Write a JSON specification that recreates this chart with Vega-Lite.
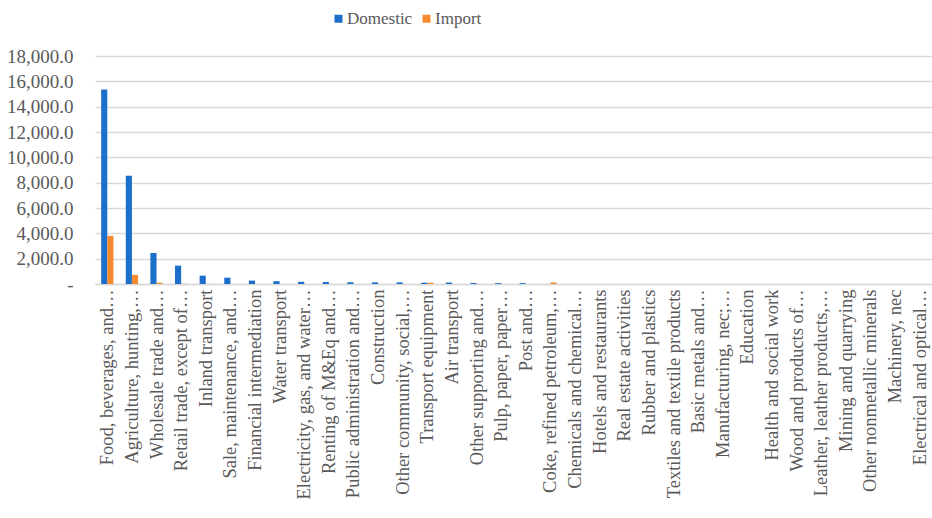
{
  "$schema": "https://vega.github.io/schema/vega-lite/v6.json",
  "autosize": {"type": "none"},
  "padding": {"left": 95, "top": 56, "right": 0, "bottom": 234},
  "width": 837,
  "height": 228,
  "background": "white",
  "config": {
    "view": {"stroke": null},
    "font": "Liberation Serif"
  },
  "data": {
    "values": [
      {"sector": "Food, beverages, and…", "source": "Domestic", "value": 15350},
      {"sector": "Food, beverages, and…", "source": "Import", "value": 3800},
      {"sector": "Agriculture, hunting,…", "source": "Domestic", "value": 8550},
      {"sector": "Agriculture, hunting,…", "source": "Import", "value": 720},
      {"sector": "Wholesale trade and…", "source": "Domestic", "value": 2450},
      {"sector": "Wholesale trade and…", "source": "Import", "value": 100},
      {"sector": "Retail trade, except of…", "source": "Domestic", "value": 1450},
      {"sector": "Retail trade, except of…", "source": "Import", "value": 15},
      {"sector": "Inland transport", "source": "Domestic", "value": 660},
      {"sector": "Inland transport", "source": "Import", "value": 10},
      {"sector": "Sale, maintenance, and…", "source": "Domestic", "value": 500},
      {"sector": "Sale, maintenance, and…", "source": "Import", "value": 0},
      {"sector": "Financial intermediation", "source": "Domestic", "value": 270},
      {"sector": "Financial intermediation", "source": "Import", "value": 0},
      {"sector": "Water transport", "source": "Domestic", "value": 220},
      {"sector": "Water transport", "source": "Import", "value": 0},
      {"sector": "Electricity, gas, and water…", "source": "Domestic", "value": 170},
      {"sector": "Electricity, gas, and water…", "source": "Import", "value": 0},
      {"sector": "Renting of M&Eq and…", "source": "Domestic", "value": 160},
      {"sector": "Renting of M&Eq and…", "source": "Import", "value": 0},
      {"sector": "Public administration and…", "source": "Domestic", "value": 140},
      {"sector": "Public administration and…", "source": "Import", "value": 0},
      {"sector": "Construction", "source": "Domestic", "value": 130},
      {"sector": "Construction", "source": "Import", "value": 0},
      {"sector": "Other community, social,…", "source": "Domestic", "value": 130},
      {"sector": "Other community, social,…", "source": "Import", "value": 0},
      {"sector": "Transport equipment", "source": "Domestic", "value": 100},
      {"sector": "Transport equipment", "source": "Import", "value": 100},
      {"sector": "Air transport", "source": "Domestic", "value": 110},
      {"sector": "Air transport", "source": "Import", "value": 0},
      {"sector": "Other supporting and…", "source": "Domestic", "value": 80},
      {"sector": "Other supporting and…", "source": "Import", "value": 0},
      {"sector": "Pulp, paper, paper…", "source": "Domestic", "value": 70},
      {"sector": "Pulp, paper, paper…", "source": "Import", "value": 0},
      {"sector": "Post and…", "source": "Domestic", "value": 70},
      {"sector": "Post and…", "source": "Import", "value": 0},
      {"sector": "Coke, refined petroleum,…", "source": "Domestic", "value": 0},
      {"sector": "Coke, refined petroleum,…", "source": "Import", "value": 120},
      {"sector": "Chemicals and chemical…", "source": "Domestic", "value": 0},
      {"sector": "Chemicals and chemical…", "source": "Import", "value": 0},
      {"sector": "Hotels and restaurants", "source": "Domestic", "value": 0},
      {"sector": "Hotels and restaurants", "source": "Import", "value": 0},
      {"sector": "Real estate activities", "source": "Domestic", "value": 0},
      {"sector": "Real estate activities", "source": "Import", "value": 0},
      {"sector": "Rubber and plastics", "source": "Domestic", "value": 0},
      {"sector": "Rubber and plastics", "source": "Import", "value": 0},
      {"sector": "Textiles and textile products", "source": "Domestic", "value": 0},
      {"sector": "Textiles and textile products", "source": "Import", "value": 0},
      {"sector": "Basic metals and…", "source": "Domestic", "value": 0},
      {"sector": "Basic metals and…", "source": "Import", "value": 0},
      {"sector": "Manufacturing, nec;…", "source": "Domestic", "value": 0},
      {"sector": "Manufacturing, nec;…", "source": "Import", "value": 0},
      {"sector": "Education", "source": "Domestic", "value": 0},
      {"sector": "Education", "source": "Import", "value": 0},
      {"sector": "Health and social work", "source": "Domestic", "value": 0},
      {"sector": "Health and social work", "source": "Import", "value": 0},
      {"sector": "Wood and products of…", "source": "Domestic", "value": 0},
      {"sector": "Wood and products of…", "source": "Import", "value": 0},
      {"sector": "Leather, leather products,…", "source": "Domestic", "value": 0},
      {"sector": "Leather, leather products,…", "source": "Import", "value": 0},
      {"sector": "Mining and quarrying", "source": "Domestic", "value": 0},
      {"sector": "Mining and quarrying", "source": "Import", "value": 0},
      {"sector": "Other nonmetallic minerals", "source": "Domestic", "value": 0},
      {"sector": "Other nonmetallic minerals", "source": "Import", "value": 0},
      {"sector": "Machinery, nec", "source": "Domestic", "value": 0},
      {"sector": "Machinery, nec", "source": "Import", "value": 0},
      {"sector": "Electrical and optical…", "source": "Domestic", "value": 0},
      {"sector": "Electrical and optical…", "source": "Import", "value": 0}
    ]
  },
  "mark": {"type": "bar"},
  "encoding": {
    "x": {
      "field": "sector",
      "type": "nominal",
      "sort": null,
      "title": null,
      "scale": {"paddingInner": 0.5, "paddingOuter": 0.25},
      "axis": {
        "labelAngle": -90,
        "labelFont": "Liberation Serif",
        "labelFontSize": 18.5,
        "labelColor": "#595959",
        "labelPadding": 5,
        "labelLimit": 400,
        "ticks": false,
        "domainColor": "#d9d9d9",
        "domainWidth": 1.5,
        "grid": false
      }
    },
    "xOffset": {
      "field": "source",
      "type": "nominal",
      "scale": {"domain": ["Domestic", "Import"], "paddingInner": 0, "paddingOuter": 0}
    },
    "y": {
      "field": "value",
      "type": "quantitative",
      "title": null,
      "scale": {"domain": [0, 18000], "nice": false},
      "axis": {
        "values": [0, 2000, 4000, 6000, 8000, 10000, 12000, 14000, 16000, 18000],
        "labelExpr": "datum.value == 0 ? '-\u00a0\u00a0' : format(datum.value, ',.1f')",
        "labelFont": "Liberation Serif",
        "labelFontSize": 19,
        "labelColor": "#595959",
        "labelPadding": 22,
        "ticks": false,
        "tickSize": 0,
        "domain": false,
        "gridColor": "#d9d9d9",
        "gridWidth": 1.3
      }
    },
    "color": {
      "field": "source",
      "type": "nominal",
      "scale": {"domain": ["Domestic", "Import"], "range": ["#1C6FCA", "#F58A2E"]},
      "legend": {
        "title": null,
        "orient": "none",
        "direction": "horizontal",
        "legendX": 235,
        "legendY": -46,
        "padding": 0,
        "symbolType": "square",
        "symbolSize": 64,
        "symbolStrokeWidth": 0,
        "symbolOffset": 0,
        "labelFont": "Liberation Serif",
        "labelFontSize": 17,
        "labelColor": "#595959",
        "labelOffset": 0,
        "columnPadding": 5
      }
    }
  }
}
